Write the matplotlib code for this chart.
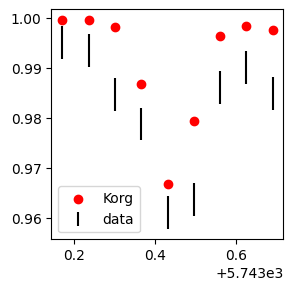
import numpy as np
import matplotlib
matplotlib.use("Agg")
import matplotlib.pyplot as plt

wavelengths = [5743.170, 5743.236, 5743.301, 5743.366, 5743.431,
               5743.496, 5743.561, 5743.625, 5743.690]
korg_flux = [0.9997, 0.9997, 0.9983, 0.9868, 0.9669,
             0.9794, 0.9964, 0.9985, 0.9977]
data_flux = [0.9951, 0.9936, 0.9848, 0.9789, 0.9612,
             0.9637, 0.9862, 0.9902, 0.9850]
data_err = [0.0033, 0.0033, 0.0033, 0.0032, 0.0033,
            0.0033, 0.0033, 0.0033, 0.0033]

fig, ax = plt.subplots(figsize=(2.93, 2.92), dpi=100)
ax.scatter(wavelengths, korg_flux, color="red", label="Korg")
ax.errorbar(wavelengths, data_flux, yerr=data_err, fmt="none", ecolor="black", label="data")
ax.legend(loc="lower left")
fig.subplots_adjust(left=0.175, right=0.967, top=0.969, bottom=0.18)
fig.savefig("out.png")
